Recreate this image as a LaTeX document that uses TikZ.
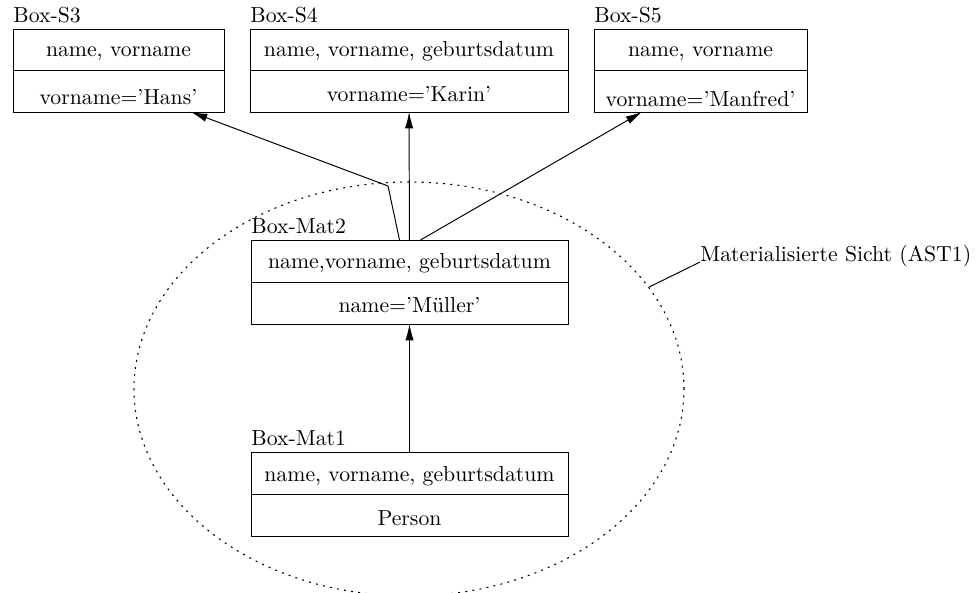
\documentclass[tikz,border=0pt]{standalone}
\usetikzlibrary{arrows.meta,calc,fit,shapes.geometric}
% one drawing unit
\def\u{0.46pt}
\begin{document}
\begin{tikzpicture}[x=\u,y=-\u,
  box/.style={draw, line width=0.45pt, inner sep=0pt, outer sep=0pt},
  rule/.style={line width=0.45pt},
  lbl/.style={anchor=base west, inner sep=0pt},
  txt/.style={anchor=base, inner sep=0pt},
  arr/.style={line width=0.45pt, -{Latex[length=7.5pt,width=3.8pt]}},
  link/.style={line width=0.45pt},
  dots/.style={line width=0.5pt, dash pattern=on 0.9pt off 2.4pt}]
\useasboundingbox (0,0) rectangle (977,593);

% materialised view boundary
\node[dots, draw, ellipse, inner sep=0pt, minimum width=550*\u, minimum height=414*\u] (ast) at (409,389) {};
\node[lbl] (astlbl) at (700,262) {Materialisierte Sicht (AST1)};
\draw[link] (ast.23) -- (astlbl.base west);

% Box-S3
\node[box, fit={(13,29) (224,112)}] (s3) {};
\draw[rule] (s3.west) -- (s3.east);
\node[lbl] (s3lbl) at (13,23) {Box-S3};
\node[txt] (s3top) at (s3.center |- 0,57) {name, vorname};
\node[txt] (s3bot) at (s3.center |- 0,105) {vorname='Hans'};

% Box-S4
\node[box, fit={(250,29) (568,112)}] (s4) {};
\draw[rule] (s4.west) -- (s4.east);
\node[lbl] (s4lbl) at (250,23) {Box-S4};
\node[txt] (s4top) at (s4.center |- 0,57) {name, vorname, geburtsdatum};
\node[txt] (s4bot) at (s4.center |- 0,102) {vorname='Karin'};

% Box-S5
\node[box, fit={(594,29) (807,112)}] (s5) {};
\draw[rule] (s5.west) -- (s5.east);
\node[lbl] (s5lbl) at (594,23) {Box-S5};
\node[txt] (s5top) at (s5.center |- 0,57) {name, vorname};
\node[txt] (s5bot) at (s5.center |- 0,107) {vorname='Manfred'};

% Box-Mat2
\node[box, fit={(251,240) (568,324)}] (mat2) {};
\draw[rule] (mat2.west) -- (mat2.east);
\node[lbl] (mat2lbl) at (251,234) {Box-Mat2};
\node[txt] (mat2top) at (mat2.center |- 0,269) {name,vorname, geburtsdatum};
\node[txt] (mat2bot) at (mat2.center |- 0,313) {name='Müller'};

% Box-Mat1
\node[box, fit={(251,452) (568,536)}] (mat1) {};
\draw[rule] (mat1.west) -- (mat1.east);
\node[lbl] (mat1lbl) at (251,446) {Box-Mat1};
\node[txt] (mat1top) at (mat1.center |- 0,482) {name, vorname, geburtsdatum};
\node[txt] (mat1bot) at (mat1.center |- 0,526) {Person};

% derivation arrows
\coordinate (bend) at (388,186);
\draw[arr] (mat1) -- (mat2);
\draw[arr] (mat2) -- (s4);
\draw[arr] ($(mat2.north)+(-10,0)$) -- (bend) -- ($(s3.south east)+(-33,0)$);
\draw[arr] ($(mat2.north)+(11,0)$) -- ($(s5.south west)+(48,0)$);
\end{tikzpicture}
\end{document}
